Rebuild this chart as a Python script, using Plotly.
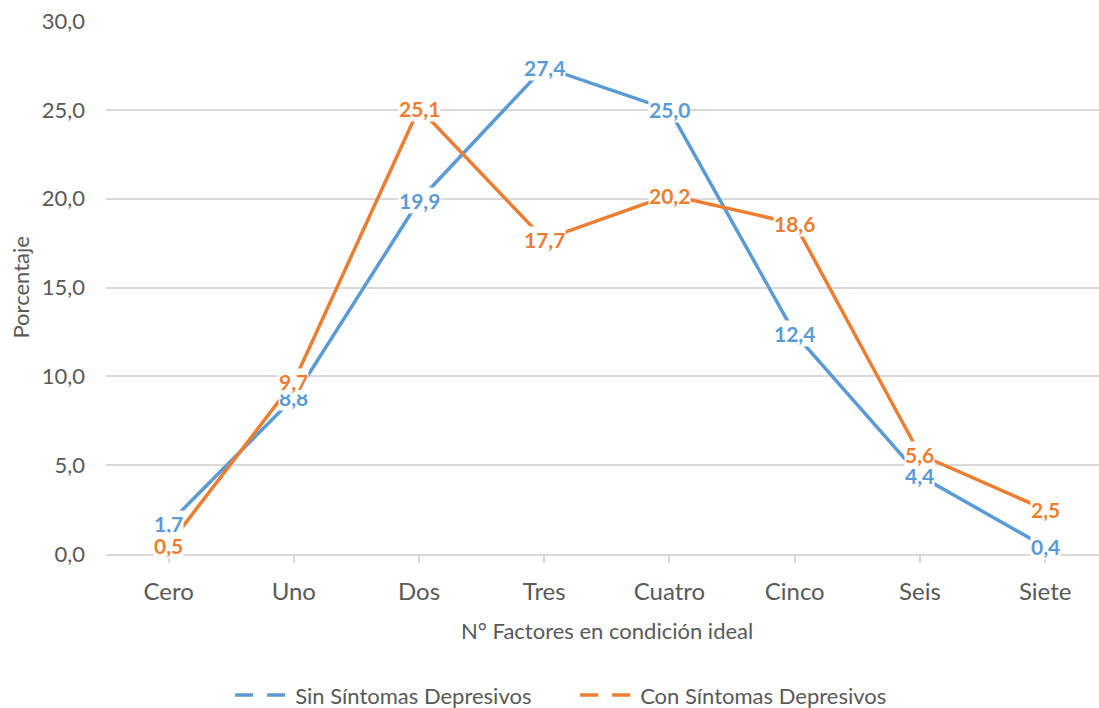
import plotly.graph_objects as go

# Data
categorias = ["Cero", "Uno", "Dos", "Tres", "Cuatro", "Cinco", "Seis", "Siete"]
sin_sintomas = [1.7, 8.8, 19.9, 27.4, 25.0, 12.4, 4.4, 0.4]
con_sintomas = [0.5, 9.7, 25.1, 17.7, 20.2, 18.6, 5.6, 2.5]
y_ticks = [0, 5, 10, 15, 20, 25, 30]

AZUL = "#5B9BD5"
NARANJA = "#ED7D31"
GRIS_TEXTO = "#595959"
GRIS_LINEA = "#D9D9D9"
FUENTE = "Lato, 'Open Sans', sans-serif"

series = [
    ("Sin Síntomas Depresivos", sin_sintomas, AZUL),
    ("Con Síntomas Depresivos", con_sintomas, NARANJA),
]

x_idx = list(range(len(categorias)))

fig = go.Figure()

for nombre, valores, color in series:
    # line drawn on the chart
    fig.add_trace(go.Scatter(
        x=x_idx, y=valores, mode="lines", name=nombre,
        line=dict(color=color, width=3.5),
        showlegend=False, hoverinfo="skip",
    ))
    # dashed key for the legend
    fig.add_trace(go.Scatter(
        x=[None], y=[None], mode="lines", name=nombre,
        line=dict(color=color, width=3.5, dash="18px,14px"),
        showlegend=True,
    ))

# data labels centred on each point, boxed in white
anotaciones = []
for nombre, valores, color in series:
    for xi, v in zip(x_idx, valores):
        anotaciones.append(dict(
            x=xi, y=v, xref="x", yref="y",
            text=f"{v:.1f}".replace(".", ","),
            showarrow=False,
            font=dict(family=FUENTE, size=21, color=color, weight="bold"),
            bgcolor="white", borderpad=0,
            xanchor="center", yanchor="middle",
        ))

# axis titles
anotaciones.append(dict(
    x=3.5, y=-0.1426, xref="x", yref="paper",
    text="N° Factores en condición ideal", showarrow=False,
    font=dict(family=FUENTE, size=22, color=GRIS_TEXTO),
    xanchor="center", yanchor="middle",
))
anotaciones.append(dict(
    x=-0.0866, y=0.5, xref="paper", yref="paper",
    text="Porcentaje", showarrow=False, textangle=-90,
    font=dict(family=FUENTE, size=22, color=GRIS_TEXTO),
    xanchor="center", yanchor="middle",
))

fig.update_layout(
    width=1099, height=708,
    margin=dict(l=106, r=0, t=21, b=154),
    paper_bgcolor="white", plot_bgcolor="white",
    separators=",.",
    font=dict(family=FUENTE, color=GRIS_TEXTO),
    annotations=anotaciones,
    showlegend=True,
    legend=dict(
        orientation="h",
        x=0.125, xanchor="left",
        yref="container", y=0.018, yanchor="middle",
        font=dict(family=FUENTE, size=22, color=GRIS_TEXTO),
        itemwidth=55,
        entrywidth=275, entrywidthmode="pixels",
        bgcolor="rgba(0,0,0,0)",
    ),
)

fig.update_xaxes(
    tickmode="array", tickvals=x_idx, ticktext=categorias,
    range=[-0.5, 7.43],
    showgrid=False, zeroline=False,
    showline=True, linecolor=GRIS_LINEA, linewidth=1.5,
    ticks="outside", tickson="boundaries", ticklen=7, tickcolor=GRIS_LINEA, tickwidth=1.5,
    tickfont=dict(family=FUENTE, size=24, color=GRIS_TEXTO),
    ticklabelstandoff=8,
)

fig.update_yaxes(
    range=[0, 30], tickvals=y_ticks, tickformat=".1f",
    showgrid=True, gridcolor=GRIS_LINEA, gridwidth=1.5,
    zeroline=False, showline=False, ticks="",
    tickfont=dict(family=FUENTE, size=22, color=GRIS_TEXTO),
    ticklabelstandoff=20,
)

fig.write_html("out.html")
